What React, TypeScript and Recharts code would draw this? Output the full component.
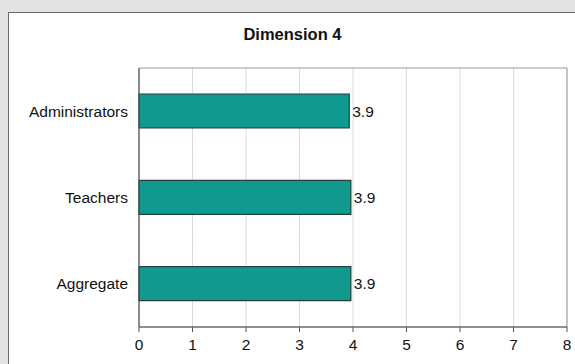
import React from 'react';
import { BarChart, Bar, XAxis, YAxis, CartesianGrid, LabelList, ReferenceArea } from 'recharts';

const categories = ['Administrators', 'Teachers', 'Aggregate'];
const scores = [3.93, 3.96, 3.96];
const scoreLabels = ['3.9', '3.9', '3.9'];
const xTicks = [0, 1, 2, 3, 4, 5, 6, 7, 8];

const data = categories.map((name, i) => ({ name, score: scores[i], label: scoreLabels[i] }));

const font = '"Liberation Sans", Arial, sans-serif';

const App: React.FC = () => {
  return (
    <div style={{ position: 'fixed', left: 0, top: 0, width: 575, height: 364, background: '#e3e3e3', overflow: 'hidden', fontFamily: font }}>
      <div style={{ position: 'absolute', left: 8, top: 12, width: 600, height: 400, background: '#ffffff', borderTop: '1px solid #6a6a6a', borderLeft: '1px solid #6a6a6a' }} />
      <div style={{ position: 'absolute', left: 0, top: 25, width: 585, textAlign: 'center', fontSize: 16.5, fontWeight: 'bold', color: '#111' }}>
        Dimension 4
      </div>
      <div style={{ position: 'absolute', left: 0, top: 0 }}>
        <BarChart width={575} height={364} data={data} layout="vertical" margin={{ top: 68, right: 8, bottom: 0, left: 0 }}>
          <CartesianGrid horizontal={false} vertical stroke="#dcdcdc" />
          <XAxis
            type="number"
            domain={[0, 8]}
            ticks={xTicks}
            interval={0}
            height={37}
            axisLine={{ stroke: '#555' }}
            tickLine={{ stroke: '#555' }}
            tickSize={5}
            tickMargin={7}
            tick={{ fill: '#111', fontSize: 15.5, fontFamily: font }}
          />
          <YAxis
            type="category"
            dataKey="name"
            width={139}
            axisLine={{ stroke: '#555' }}
            tickLine={false}
            tickMargin={5}
            tick={{ fill: '#111', fontSize: 15.5, fontFamily: font }}
          />
          <ReferenceArea x1={0} x2={8} fill="none" stroke="#999" strokeWidth={1} ifOverflow="visible" />
          <Bar dataKey="score" barSize={34} fill="#109a8f" stroke="#24403f" strokeWidth={1.2} isAnimationActive={false}>
            <LabelList dataKey="label" position="right" offset={3} fill="#111" fontSize={15.5} fontFamily={font} />
          </Bar>
        </BarChart>
      </div>
    </div>
  );
};

export default App;
